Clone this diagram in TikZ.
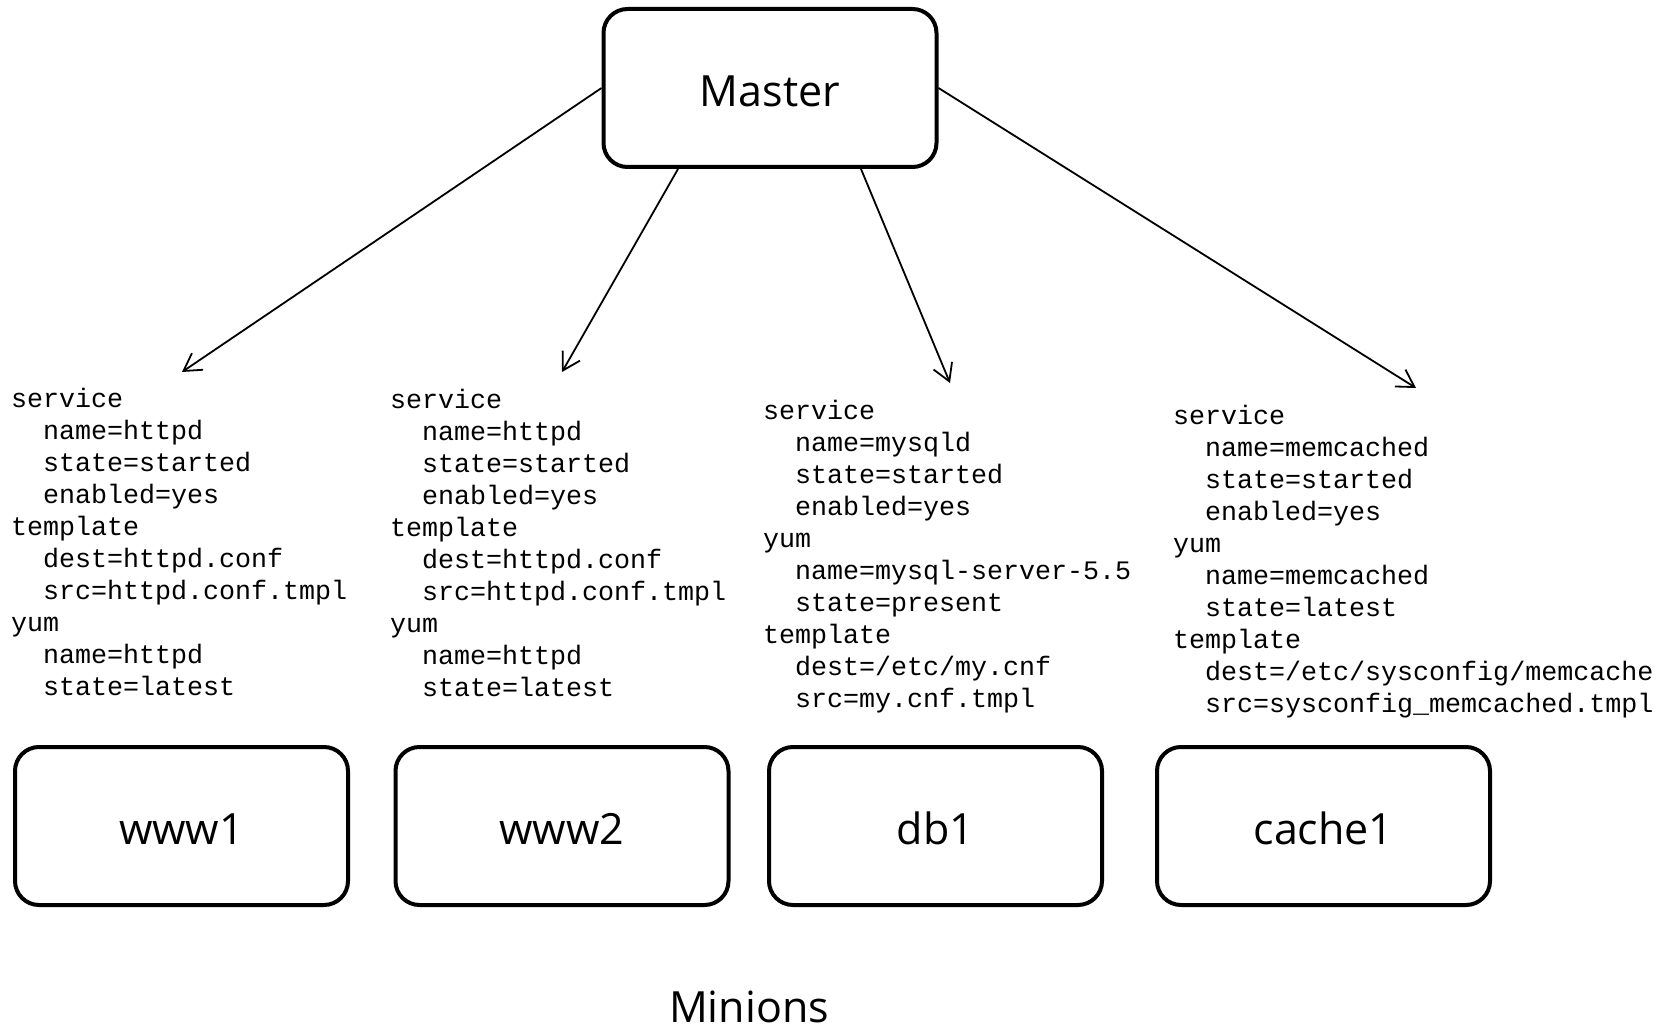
\documentclass[tikz,border=0pt]{standalone}
\usepackage{fontspec}
\usetikzlibrary{arrows.meta,calc}
\newfontfamily\labelfont{Open Sans}
\newfontfamily\codefont{Liberation Mono}
\newcommand\codeindent{\hspace*{32pt}}
\tikzset{
  hostbox/.style={draw, line width=4pt, rounded corners=24pt, minimum width=333pt,
    minimum height=158pt, inner sep=0pt, text height=37pt, text depth=0pt,
    font=\labelfont\fontsize{43}{50}\selectfont},
  conf/.style={anchor=north west, inner sep=0pt, align=left,
    font=\codefont\fontsize{26.67}{32}\selectfont},
  push/.style={line width=1.8pt, -{Straight Barb[length=17pt,width=20pt,line width=1.8pt]}}
}
\begin{document}
\begin{tikzpicture}[x=1pt,y=-1pt]
\useasboundingbox (0,0) rectangle (1671,1027);

% master and minion hosts
\node[hostbox] (master) at (770,88) {Master};
\node[hostbox] (www1)   at (181.5,826) {www1};
\node[hostbox] (www2)   at (562,826) {www2};
\node[hostbox] (db1)    at (935.5,826) {db1};
\node[hostbox] (cache1) at (1323.5,826) {cache1};
\node[anchor=base, inner sep=0pt, text depth=0pt,
  font=\labelfont\fontsize{43}{50}\selectfont] (minions) at (749,1022) {Minions};

% state descriptions for each minion
\node[conf] (c1) at (11,387.5) {service\\
\codeindent name=httpd\\
\codeindent state=started\\
\codeindent enabled=yes\\
template\\
\codeindent dest=httpd.conf\\
\codeindent src=httpd.conf.tmpl\\
yum\\
\codeindent name=httpd\\
\codeindent state=latest};

\node[conf] (c2) at (390,388.5) {service\\
\codeindent name=httpd\\
\codeindent state=started\\
\codeindent enabled=yes\\
template\\
\codeindent dest=httpd.conf\\
\codeindent src=httpd.conf.tmpl\\
yum\\
\codeindent name=httpd\\
\codeindent state=latest};

\node[conf] (c3) at (763,399.5) {service\\
\codeindent name=mysqld\\
\codeindent state=started\\
\codeindent enabled=yes\\
yum\\
\codeindent name=mysql-server-5.5\\
\codeindent state=present\\
template\\
\codeindent dest=/etc/my.cnf\\
\codeindent src=my.cnf.tmpl};

\node[conf] (c4) at (1173,404.5) {service\\
\codeindent name=memcached\\
\codeindent state=started\\
\codeindent enabled=yes\\
yum\\
\codeindent name=memcached\\
\codeindent state=latest\\
template\\
\codeindent dest=/etc/sysconfig/memcache\\
\codeindent src=sysconfig\_memcached.tmpl};

% arrow targets above each description
\coordinate (t1) at (182,372);
\coordinate (t2) at (562,372);
\coordinate (t3) at (950,383);
\coordinate (t4) at (1416,388);

\draw[push] (master.west) -- (t1);
\draw[push] ($(master.south)+(-92,0)$) -- (t2);
\draw[push] ($(master.south)+(91,0)$) -- (t3);
\draw[push] (master.east) -- (t4);
\end{tikzpicture}
\end{document}
